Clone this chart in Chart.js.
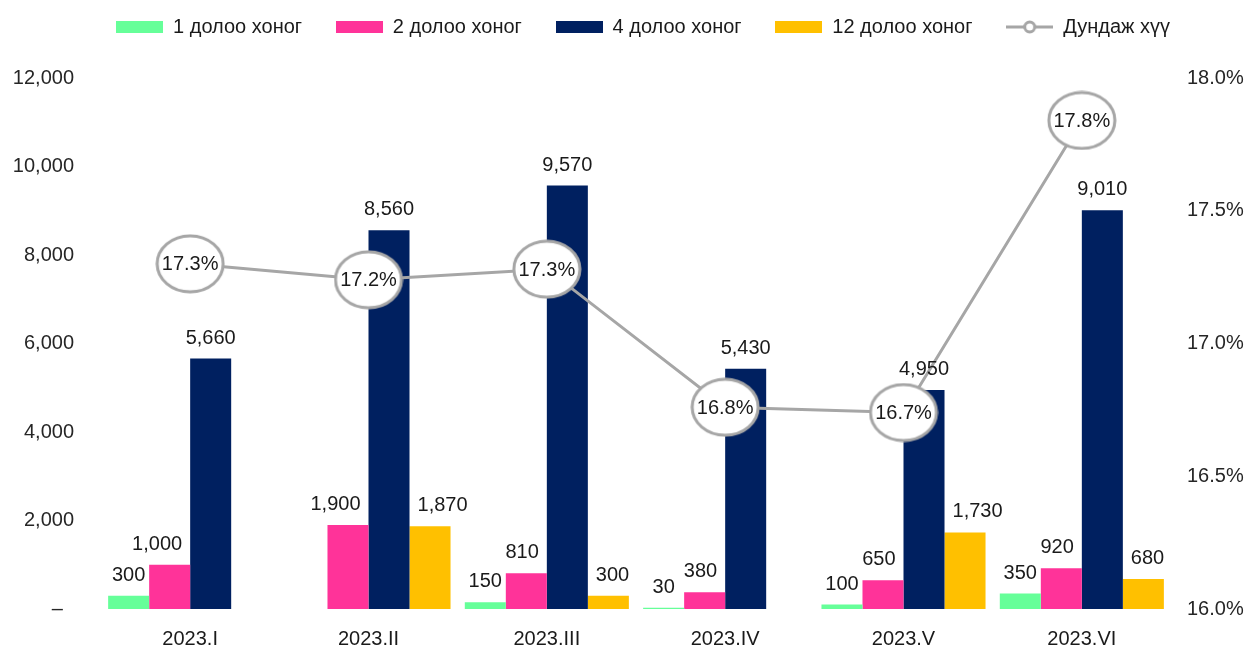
<!DOCTYPE html>
<html>
<head>
<meta charset="utf-8">
<script src="https://cdn.jsdelivr.net/npm/chart.js@4.4.0/dist/chart.umd.min.js"></script>
<style>
html, body { margin: 0; padding: 0; background: #fff; }
#wrap { width: 1252px; height: 648px; }
</style>
</head>
<body>
<div id="wrap"><canvas id="rateChart"></canvas></div>
<script>
// Chart data
const periods = ['2023.I', '2023.II', '2023.III', '2023.IV', '2023.V', '2023.VI'];
const week1 = [300, null, 150, 30, 100, 350];
const week2 = [1000, 1900, 810, 380, 650, 920];
const week4 = [5660, 8560, 9570, 5430, 4950, 9010];
const week12 = [null, 1870, 300, null, 1730, 680];
const avgRate = [17.30, 17.24, 17.28, 16.76, 16.74, 17.84];
const seriesNames = ['1 долоо хоног', '2 долоо хоног', '4 долоо хоног', '12 долоо хоног', 'Дундаж хүү'];

const font = '"Liberation Sans", Arial, sans-serif';
const grey = '#A6A6A6';
const textColor = '#1a1a1a';

// ellipse marker for the rate line
function makeEllipse(w, h) {
    const c = document.createElement('canvas');
    c.width = w; c.height = h;
    const g = c.getContext('2d');
    g.beginPath();
    g.ellipse(w / 2, h / 2, w / 2 - 2, h / 2 - 2, 0, 0, Math.PI * 2);
    g.fillStyle = '#fff';
    g.fill();
    g.lineWidth = 3;
    g.strokeStyle = grey;
    g.stroke();
    return c;
}

// legend swatches
function makeSwatch(color) {
    const c = document.createElement('canvas');
    c.width = 47; c.height = 12;
    const g = c.getContext('2d');
    g.fillStyle = color;
    g.fillRect(0, 0, 47, 12);
    return c;
}
function makeLineSwatch() {
    const c = document.createElement('canvas');
    c.width = 47; c.height = 14;
    const g = c.getContext('2d');
    g.strokeStyle = grey;
    g.lineWidth = 3;
    g.beginPath(); g.moveTo(0, 7); g.lineTo(47, 7); g.stroke();
    g.beginPath(); g.arc(23.5, 7, 5, 0, Math.PI * 2);
    g.fillStyle = '#fff'; g.fill(); g.stroke();
    return c;
}

const barColors = ['#66FF99', '#FF3399', '#002060', '#FFC000'];
const swatches = barColors.map(makeSwatch).concat([makeLineSwatch()]);

// value labels above bars and inside the ellipses
const valueLabels = {
    id: 'valueLabels',
    afterDatasetsDraw(chart) {
        const ctx = chart.ctx;
        ctx.save();
        ctx.textAlign = 'center';
        ctx.fillStyle = textColor;
        ctx.font = '20px ' + font;
        const navy = chart.getDatasetMeta(2).data;
        chart.data.datasets.forEach((ds, i) => {
            const meta = chart.getDatasetMeta(i);
            meta.data.forEach((el, j) => {
                const v = ds.data[j];
                if (v == null) return;
                if (ds.type === 'line') {
                    ctx.textBaseline = 'middle';
                    ctx.fillText(v.toFixed(1) + '%', el.x, el.y + 1);
                    return;
                }
                const txt = v.toLocaleString('en-US');
                const half = ctx.measureText(txt).width / 2;
                const base = el.y - 15;
                let x = el.x;
                // keep labels next to the tall navy bar clear of it
                const nb = navy[j];
                if (nb && nb.y < base) {
                    const nl = nb.x - nb.width / 2, nr = nb.x + nb.width / 2;
                    if (i === 1 && x + half > nl - 8) x = nl - 8 - half;
                    if (i === 3 && x - half < nr + 8) x = nr + 8 + half;
                }
                ctx.textBaseline = 'alphabetic';
                ctx.fillText(txt, x, base);
            });
        });
        ctx.restore();
    }
};

// fixed legend band height so the plot starts where the reference does,
// and the legend row a bit right of the canvas centre
const legendBand = {
    id: 'legendBand',
    afterInit(chart) {
        const lg = chart.legend;
        if (!lg) return;
        const fit = lg.fit;
        lg.fit = function() { fit.call(this); this.height = 78; };
    },
    afterLayout(chart) {
        const lg = chart.legend;
        if (!lg) return;
        lg.left = 34;
        lg.right = chart.width;
    }
};

const ctx = document.getElementById('rateChart').getContext('2d');
new Chart(ctx, {
    data: {
        labels: periods,
        datasets: [
            { type: 'bar', label: seriesNames[0], data: week1, backgroundColor: barColors[0], yAxisID: 'y', order: 2 },
            { type: 'bar', label: seriesNames[1], data: week2, backgroundColor: barColors[1], yAxisID: 'y', order: 2 },
            { type: 'bar', label: seriesNames[2], data: week4, backgroundColor: barColors[2], yAxisID: 'y', order: 2 },
            { type: 'bar', label: seriesNames[3], data: week12, backgroundColor: barColors[3], yAxisID: 'y', order: 2 },
            {
                type: 'line', label: seriesNames[4], data: avgRate, yAxisID: 'y1', order: 1,
                borderColor: grey, borderWidth: 3, backgroundColor: '#fff',
                pointStyle: makeEllipse(70, 60), pointRadius: 30, tension: 0
            }
        ]
    },
    options: {
        responsive: true,
        maintainAspectRatio: false,
        animation: false,
        layout: { padding: 0 },
        datasets: {
            bar: { categoryPercentage: 0.92, barPercentage: 1.0 }
        },
        plugins: {
            tooltip: { enabled: false },
            legend: {
                position: 'top',
                fullSize: true,
                labels: {
                    usePointStyle: true,
                    pointStyleWidth: 47,
                    boxHeight: 12,
                    padding: 17,
                    color: textColor,
                    font: { family: font, size: 20 },
                    sort: (a, b) => a.datasetIndex - b.datasetIndex,
                    generateLabels: function(chart) {
                        const items = Chart.defaults.plugins.legend.labels.generateLabels(chart);
                        items.forEach(it => {
                            it.pointStyle = swatches[it.datasetIndex];
                            // a little extra gap between legend entries
                            if (it.datasetIndex < 4) it.text = it.text + '   ';
                        });
                        return items;
                    }
                }
            }
        },
        scales: {
            x: {
                grid: { display: false, drawTicks: false },
                border: { display: false },
                ticks: { color: textColor, font: { family: font, size: 20 }, padding: 18 },
                afterFit: s => { s.height = 39; }
            },
            y: {
                position: 'left',
                min: 0, max: 12000,
                grid: { display: false, drawTicks: false },
                border: { display: false },
                ticks: {
                    stepSize: 2000,
                    padding: 27,
                    color: '#262626',
                    font: { family: font, size: 20 },
                    callback: v => v === 0 ? '–  ' : v.toLocaleString('en-US')
                },
                afterFit: s => { s.width = 101; }
            },
            y1: {
                position: 'right',
                min: 16, max: 18,
                grid: { display: false, drawTicks: false },
                border: { display: false },
                ticks: {
                    stepSize: 0.5,
                    padding: 16,
                    color: '#262626',
                    font: { family: font, size: 20 },
                    callback: v => v.toFixed(1) + '%'
                },
                afterFit: s => { s.width = 81; }
            }
        }
    },
    plugins: [valueLabels, legendBand]
});
</script>
</body>
</html>
